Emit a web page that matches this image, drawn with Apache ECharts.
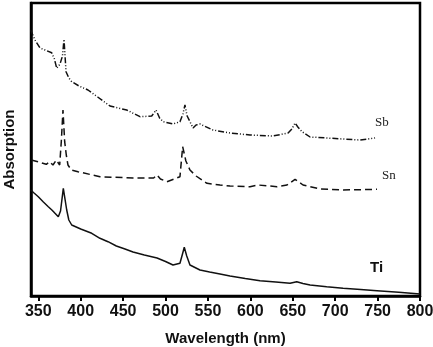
<!DOCTYPE html>
<html>
<head>
<meta charset="utf-8">
<script src="https://cdn.jsdelivr.net/npm/echarts@6/dist/echarts.min.js"></script>
<style>
  html, body { margin: 0; padding: 0; background: #fff; }
  #chart { width: 433px; height: 347px; }
</style>
</head>
<body>
<div id="chart"></div>
<script>
// Wavelength tick labels (nm)
const tickValues = [350, 400, 450, 500, 550, 600, 650, 700, 750, 800];

// Absorption spectra (arbitrary units, curves offset vertically)
const sbWavelength = [341, 346, 352, 358, 365.8, 369, 371.7, 375.6, 378.5, 380.3, 382.7, 386, 389.4, 398, 408.6, 420, 434.5, 454.2, 469.9, 483.7, 488.8, 493, 497, 508.8, 517, 520.5, 522.9, 525.5, 528.8, 532.4, 536, 540.6, 556, 576, 599.6, 626.7, 644.5, 649, 652.7, 656, 661, 670.4, 690.5, 709.3, 729.4, 747];
const sbAbsorption = [266, 256, 248, 246, 243.3, 237, 227.7, 232, 240, 256.7, 224.3, 218, 214.3, 210, 206, 199, 190, 186, 179.3, 180, 186, 178, 174.3, 172, 174.3, 182, 191, 180, 174.3, 168, 171, 172, 166, 163, 161, 160, 163, 167, 173, 169, 164.3, 159, 158, 157, 156, 158];

const snWavelength = [341.7, 349.6, 359.4, 363.4, 367.3, 371.2, 375.2, 377.1, 379.1, 381.1, 383, 385, 388.9, 396.8, 422.7, 461.7, 486, 490, 494, 501.7, 517, 520.2, 524, 528.8, 536, 548.9, 564.2, 576, 599.6, 609, 631.4, 643.2, 652.7, 662.1, 682.2, 709.3, 749.3];
const snAbsorption = [136, 134.3, 131.7, 134.3, 131, 136, 131, 154.3, 186, 154.3, 141, 131, 126, 124.3, 119.3, 118, 118, 121, 117, 114.3, 119.3, 149.3, 135, 126, 120, 112.7, 111, 110, 109.3, 111, 109.3, 111, 116.7, 111, 107, 106, 106.7];

const tiWavelength = [341, 345, 350, 356, 361.8, 366, 369.7, 373.6, 376.2, 379.5, 383.5, 386, 389.4, 400, 413, 422.7, 432.2, 442, 452.2, 461.7, 475, 490, 500, 508.8, 517, 520, 522.1, 525, 528.8, 540.6, 552, 564.2, 576, 594, 611.4, 630, 646.8, 654.7, 662, 670.4, 690, 709.3, 730, 749.3, 775, 800];
const tiAbsorption = [106, 103, 99.3, 94, 89.3, 86, 82.7, 79.3, 85, 107.7, 86, 76, 71, 67, 62.7, 57.7, 54.3, 50, 47, 44, 41, 38, 34.5, 31, 32.7, 42, 48.7, 40, 31, 26, 24, 22, 20, 17.5, 15.3, 14, 12.7, 14.3, 12.5, 11, 9.3, 7.7, 6.5, 5.3, 3.7, 2];

const pairs = (xs, ys) => xs.map((x, i) => [x, ys[i]]);

const chart = echarts.init(document.getElementById('chart'));

const lineSeries = (name, xs, ys, type) => ({
  name: name,
  type: 'line',
  data: pairs(xs, ys),
  showSymbol: false,
  smooth: false,
  lineStyle: { color: '#111', width: 1.5, type: type },
  animation: false
});

chart.setOption({
  animation: false,
  grid: {
    left: 31, top: 3, right: 13, bottom: 51,
    outerBoundsMode: 'none',
    show: true, borderColor: '#000', borderWidth: 2.5
  },
  xAxis: {
    type: 'value',
    min: 341.4,
    max: 800,
    name: 'Wavelength (nm)',
    nameLocation: 'middle',
    nameGap: 35,
    nameTextStyle: { fontFamily: 'Liberation Sans', fontWeight: 'bold', fontSize: 15, color: '#111' },
    axisLine: { show: true, lineStyle: { color: '#000', width: 2.5 } },
    axisTick: { show: true, inside: false, length: 5, lineStyle: { color: '#000', width: 2 }, customValues: tickValues },
    axisLabel: {
      customValues: tickValues,
      fontFamily: 'Liberation Sans', fontWeight: 'bold', fontSize: 16, color: '#111', margin: 8
    },
    splitLine: { show: false }
  },
  yAxis: {
    type: 'value',
    min: 0,
    max: 293,
    name: 'Absorption',
    nameLocation: 'middle',
    nameGap: 14,
    nameRotate: 90,
    nameTextStyle: { fontFamily: 'Liberation Sans', fontWeight: 'bold', fontSize: 15, color: '#111' },
    axisLine: { show: true, lineStyle: { color: '#000', width: 2.5 } },
    axisTick: { show: false },
    axisLabel: { show: false },
    splitLine: { show: false }
  },
  series: [
    lineSeries('Sb', sbWavelength, sbAbsorption, [6, 2, 1, 2, 1, 2]),
    lineSeries('Sn', snWavelength, snAbsorption, [7, 4]),
    lineSeries('Ti', tiWavelength, tiAbsorption, 'solid')
  ],
  graphic: [
    { type: 'text', left: 375, top: 116, style: { text: 'Sb', font: '13px "Liberation Serif"', fill: '#222' } },
    { type: 'text', left: 382, top: 169, style: { text: 'Sn', font: '13px "Liberation Serif"', fill: '#222' } },
    { type: 'text', left: 370, top: 260, style: { text: 'Ti', font: 'bold 15px "Liberation Sans"', fill: '#111' } }
  ]
});
</script>
</body>
</html>
